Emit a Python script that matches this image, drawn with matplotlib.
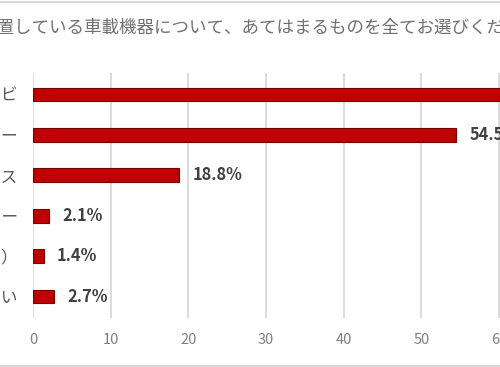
import matplotlib
matplotlib.use('Agg')
import matplotlib.pyplot as plt
from matplotlib.patches import Rectangle

plt.rcParams['font.family'] = ['Noto Sans CJK JP', 'DejaVu Sans']

# データ (上から順に)
categories = ['カーナビ', 'ドライブレコーダー', 'ハンズフリーデバイス',
              '車載用スピーカー', 'その他（　）', '設置していない']
values = [80.3, 54.5, 18.8, 2.1, 1.4, 2.7]
xticks = [0, 10, 20, 30, 40, 50, 60, 70, 80, 90]
title = '車に設置している車載機器について、あてはまるものを全てお選びください。'


def main():
    fig = plt.figure(figsize=(5, 3.67), dpi=100)
    fig.patch.set_facecolor('white')

    # 元のグラフは切り取られているので、軸を図の外まで伸ばす
    ax = fig.add_axes([0.066, 0.1335, 1.398, 0.6676])
    ypos = list(range(len(categories)))
    ax.barh(ypos, values, height=0.34, color='#c00000',
            edgecolor='#7a0000', linewidth=0.8, zorder=3)

    ax.set_xlim(0, 90)
    ax.set_ylim(len(categories) - 0.47, -0.53)
    ax.set_xticks(xticks)
    ax.set_yticks(ypos)
    ax.set_yticklabels(categories, fontsize=12, color='#595959')
    ax.tick_params(axis='x', colors='#7f7f7f', labelsize=10.5, length=0, pad=11)
    ax.tick_params(axis='y', length=0, pad=11)
    ax.grid(axis='x', color='#d9d9d9', linewidth=1.3, zorder=0)
    for s in ax.spines.values():
        s.set_visible(False)

    for y, v in zip(ypos, values):
        ax.annotate(f'{v:.1f}%', (v, y), xytext=(9.5, 0), textcoords='offset points',
                    ha='left', va='center', fontsize=11.8, fontweight='bold',
                    color='#404040')

    # タイトル (左端は切れている)
    fig.text(-0.112, 0.925, title, fontsize=12.6, color='#707070',
             ha='left', va='center')

    # グラフ枠
    fig.add_artist(Rectangle((-0.5, 0.004), 2.0, 0.99, transform=fig.transFigure,
                             fill=False, edgecolor='#cfcfcf', linewidth=1.2))

    fig.savefig('out.png', dpi=100)
    plt.close('all')


if __name__ == '__main__':
    main()
